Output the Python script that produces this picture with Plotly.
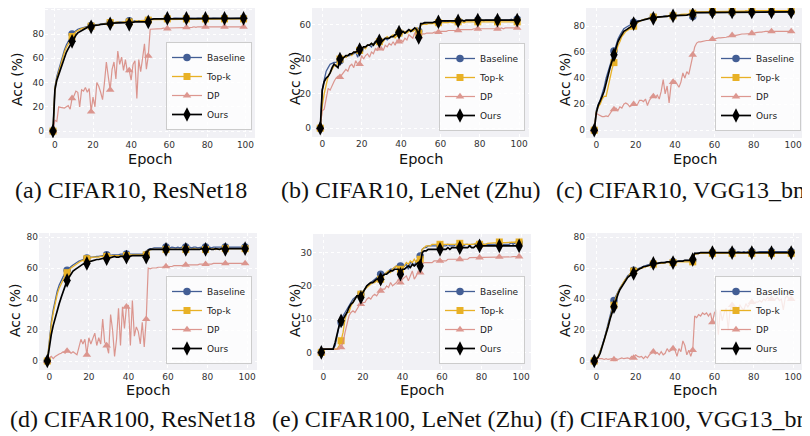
import plotly.graph_objects as go

# The page body adds an 8 px margin, so the figure is 8 px smaller than the window
OFF = 8
W, H = 810 - OFF, 436 - OFF

# ---------------- data ----------------
epochs = list(range(-1, 100))
series_names = ["Baseline", "Top-k", "DP", "Ours"]
x_ticks = [0, 20, 40, 60, 80, 100]

# (a) CIFAR10, ResNet18
a_base = [0,
    36, 45, 51, 57, 62, 67, 71, 74, 77, 80,
    81.5, 83, 84, 84.5, 85, 85.5, 86, 86.5, 87, 87,
    87.5, 87.5, 88, 88, 88, 88.5, 88.5, 89, 89, 89.5,
    89.5, 89.5, 90, 90, 90, 90, 90.5, 90.5, 90, 91,
    90.5, 90.5, 91, 90.5, 91, 91, 90.5, 91, 91, 91.5,
    92.5, 92.5, 92.5, 93, 92.5, 93, 93, 92.5, 93, 93,
    93, 92.8, 93, 93.2, 93, 93, 92.9, 93, 93.1, 93,
    93, 93, 93.2, 93, 93, 93.1, 93, 93, 93.2, 93,
    93, 93.1, 93, 93.2, 93, 93, 93.1, 93, 93, 93.2,
    93, 93.1, 93, 93, 93.2, 93, 93.1, 93, 93, 93.2]
a_topk = [0,
    35, 43, 49, 55, 60, 65, 69, 72, 75, 78,
    80, 82, 83, 84, 84.5, 85, 85.5, 86, 86.5, 86.5,
    87, 87, 87.5, 88, 88, 88, 88.5, 88.5, 89, 89.5,
    89, 89.5, 89.5, 90, 89.5, 90, 90, 90, 90.5, 90,
    90, 90.5, 90.5, 91, 90.5, 91, 91, 91, 91, 91.5,
    92, 92, 92, 92.5, 92, 92.5, 92.5, 92, 92.5, 92.5,
    92.5, 92.5, 92.3, 92.5, 92.5, 92.6, 92.5, 92.5, 92.4, 92.5,
    92.5, 92.5, 92.6, 92.5, 92.5, 92.4, 92.5, 92.6, 92.5, 92.5,
    92.5, 92.6, 92.5, 92.5, 92.4, 92.5, 92.5, 92.6, 92.5, 92.5,
    92.5, 92.5, 92.6, 92.5, 92.5, 92.6, 92.5, 92.5, 92.6, 92.5]
a_dp = [0,
    9, 8, 20, 19.5, 19.5, 19, 20, 21, 18, 27,
    29, 33, 32, 20, 34, 33, 36, 32, 35, 16,
    28, 20, 40, 37, 32, 26, 40, 57, 45, 34,
    51, 57, 43, 66, 55, 61, 50, 59, 49, 50,
    42, 55, 58, 27, 59, 49, 60, 72, 51, 62,
    84, 84, 84, 84.5, 84.5, 84.5, 84.5, 85, 84.5, 84.5,
    85, 85, 85, 85, 85.5, 85, 85.5, 85.5, 85.5, 85.5,
    85.5, 85.5, 85.5, 86, 85.5, 86, 86, 86, 86, 86,
    86, 86, 86, 86, 86, 86, 86.5, 86, 86, 86,
    86, 86, 86.5, 86, 86, 86.5, 86, 86, 86.5, 86]
a_ours = [0,
    34, 42, 47, 52, 56, 61, 65, 68, 71, 74,
    77, 79, 81, 82, 83, 84, 85, 85.5, 86, 86,
    87, 87, 87.5, 87.5, 88, 88, 88, 88.5, 88.5, 88.5,
    89, 89, 89, 89.5, 89.5, 89.5, 89.5, 89.5, 90, 88,
    89.5, 90, 90, 90, 90, 90, 90, 90.5, 90.5, 90,
    92, 92.5, 92.5, 92.5, 92.5, 92.5, 92.5, 93, 93, 93,
    93, 93, 93, 93, 93, 93, 93, 93, 93, 93,
    93, 93, 93, 93, 93, 93, 93, 93, 93, 93,
    93, 93, 93, 93, 93, 93, 93, 93, 93, 93,
    93, 93, 93, 93, 93, 93, 93, 93, 93, 93]

# (b) CIFAR10, LeNet (Zhu)
b_base = [0,
    22, 28, 33, 35, 37, 37.5, 38, 38, 39, 39,
    40, 41, 41, 42, 42, 43, 43, 44, 41, 45,
    46, 46, 47, 48, 48, 47, 49, 49, 50, 50,
    50, 51, 52, 51, 52, 53, 53, 54, 54, 55,
    55, 56, 55, 56, 57, 56, 57, 57, 58, 56,
    60, 60.5, 60.5, 61, 61, 61, 61, 61, 61.5, 61,
    61.5, 61.5, 61.5, 62, 61.5, 62, 62, 62, 62, 62,
    62, 62, 62, 62, 62, 62, 62, 62.5, 62, 62.5,
    62.5, 62.5, 62, 62.5, 62.5, 62.5, 62.5, 62.5, 62.5, 62.5,
    62.5, 62.5, 62.5, 62.5, 62.5, 62.5, 63, 62.5, 62.5, 63]
b_topk = [0,
    13, 20, 26, 30, 32, 34, 36, 36, 38, 40,
    40, 41, 41, 42, 43, 42, 44, 44, 45, 45,
    46, 47, 46, 48, 48, 49, 48, 50, 49, 50,
    51, 50, 52, 53, 52, 53, 54, 52, 54, 55,
    54, 55, 56, 55, 56, 57, 56, 57, 58, 55,
    59.5, 60, 60, 60, 60.5, 60.5, 60.5, 60.5, 61, 61,
    61, 61, 61, 61, 61, 61.5, 61, 61, 61.5, 61.5,
    61.5, 61.5, 61, 61.5, 61.5, 61.5, 61.5, 61.5, 61.5, 61.5,
    61.5, 61.5, 61.5, 61.5, 61.5, 61.5, 61.5, 61.5, 61.5, 61.5,
    61.5, 61.5, 61.5, 61.5, 61.5, 61.5, 61.5, 61.5, 61.5, 61.5]
b_dp = [0,
    10, 11, 17, 23, 22, 25, 27, 29, 30, 29.5,
    31, 32, 34, 33, 36, 37, 35, 39, 37, 37,
    42, 40, 42, 43, 41, 44, 43, 46, 45, 46,
    47, 45, 48, 47, 49, 48, 50, 48, 51, 50,
    51, 50, 52, 51, 54, 53, 52, 55, 54, 53,
    54, 54.5, 54.5, 55, 55, 55, 55, 55.5, 55.5, 55.5,
    56, 56, 56, 56, 56.5, 56.5, 56.5, 56.5, 56.5, 56.5,
    57, 57, 57, 57, 57, 57, 57, 57.5, 57.5, 57.5,
    57.5, 57.5, 57.5, 57.5, 57.5, 57.5, 57.5, 57.5, 57.5, 57.5,
    57.5, 58, 57.5, 58, 58, 58, 58, 58, 58, 58]
b_ours = [0,
    22, 27, 29, 30, 32, 35, 37, 36, 35, 40,
    40, 41, 42, 42, 43, 43, 44, 44, 45, 45.5,
    46, 47, 47, 48, 48, 49, 48, 50, 50, 50.5,
    50, 51, 52, 52, 52, 53, 53, 54, 55, 55.5,
    55, 56, 55, 56, 57, 56, 57, 58, 57, 52.5,
    60.5, 60.5, 61, 61, 61, 61, 61, 61.5, 61.5, 61.5,
    62, 62, 62, 62, 62, 62, 62, 62, 62, 62,
    62, 62.5, 62, 62.5, 62.5, 62.5, 62.5, 62.5, 62.5, 62.5,
    62.5, 62.5, 62.5, 62.5, 62.5, 62.5, 62.5, 62.5, 62.5, 62.5,
    62.5, 62.5, 62.5, 62.5, 62.5, 62.5, 62.5, 62.5, 62.5, 62.5]

# (c) CIFAR10, VGG13_bn
c_base = [0,
    15, 20, 23, 28, 33, 40, 45, 50, 55, 61,
    66, 70, 73, 76, 78, 79, 80, 81, 82, 83,
    83.5, 84, 84, 84.5, 85, 85.5, 86, 86, 86.5, 87,
    87, 87, 87.5, 87.5, 87.5, 88, 88, 88, 88, 88,
    88, 88.5, 88.5, 88.5, 88.5, 88.5, 88.5, 89, 88.5, 87.5,
    90.5, 90.5, 90.5, 90.5, 90.5, 90.5, 90.5, 90.5, 90.5, 90.5,
    90.5, 90.5, 90.5, 90.5, 90.5, 90.5, 90.5, 90.5, 90.5, 90.5,
    90.5, 90.5, 90.5, 90.5, 90.5, 90.5, 90.5, 91, 90.5, 91,
    91, 91, 90.5, 91, 91, 91, 91, 91, 91, 91,
    91, 91, 91, 91, 91, 91, 91, 91, 91, 91]
c_topk = [0,
    14, 18, 20, 24, 26, 26, 34, 42, 47, 52,
    60, 65, 68, 72, 74, 76, 77, 78, 79, 80,
    82, 83, 84, 84.5, 85, 85.5, 86, 86, 86.5, 87,
    87, 87, 87.5, 87.5, 87.5, 87.5, 88, 88, 88, 88,
    88, 88.5, 88.5, 89, 89, 89, 89.5, 89.5, 90, 90,
    91, 91, 91, 91.5, 91.5, 91.5, 91.5, 91.5, 91.5, 91.5,
    91.5, 91.5, 91.5, 91.5, 91.5, 91.5, 91.5, 91.5, 91.5, 91.5,
    91.5, 91.5, 91.5, 91.5, 91.5, 91.5, 92, 91.5, 91.5, 92,
    92, 92, 92, 92, 92, 92, 92, 92, 92, 92,
    92, 92, 92, 92, 92, 92, 92, 92, 92, 92]
c_dp = [0,
    13, 12, 11, 10.5, 10.5, 11, 10.5, 13, 15, 16,
    17, 15, 18, 17, 20, 21, 20, 18, 19, 20,
    19, 20, 23, 23, 22, 24, 19, 23, 25, 26,
    25, 27, 24, 30, 39, 28, 34, 21, 35, 37,
    38, 35, 33, 37, 44, 40, 45, 43, 50, 58,
    64, 67, 68, 68, 68.5, 69, 69, 69, 69.5, 70,
    70, 70.5, 71, 71, 71, 71.5, 71.5, 72, 72.5, 73,
    73, 73, 73.5, 73.5, 74, 74, 74, 74, 74.5, 74.5,
    74.5, 75, 75.5, 75.5, 75.5, 76, 76, 76, 76, 76,
    76, 76, 76.5, 76.5, 76.5, 76.5, 76.5, 76.5, 76, 76]
c_ours = [0,
    13, 19, 22, 26, 30, 37, 42, 48, 53, 58,
    63, 68, 71, 74, 76, 77, 78, 79, 80, 82,
    83, 83.5, 84, 84.5, 85, 85.5, 85.5, 86, 86, 86,
    86.5, 87, 87, 87, 87.5, 87.5, 87.5, 88, 88, 88,
    88, 88, 88, 88.5, 88.5, 88.5, 88.5, 89, 89, 89,
    90.5, 90.5, 90.5, 90.5, 90.5, 90.5, 90.5, 91, 91, 91,
    91, 91, 91, 91, 91, 91, 91, 91, 91, 91,
    91, 91, 91, 91, 91, 91, 91, 91, 91, 91,
    91, 91, 91, 91, 91, 91, 91, 91, 91, 91,
    91, 91, 91, 91, 91, 91, 91, 91, 91, 91]

# (d) CIFAR100, ResNet18
d_base = [0,
    15, 25, 33, 40, 45, 49, 52, 55, 57, 58.5,
    60, 61, 62, 63, 64, 64.5, 65, 65.5, 66, 66.5,
    67, 67, 67, 67.5, 67.5, 67.5, 68, 68, 68, 68.5,
    68, 68.5, 68.5, 68.5, 68.5, 68.5, 69, 69, 69, 69,
    69, 69, 69, 69, 69, 69, 69, 69, 69, 68.5,
    72, 72.5, 72.5, 73, 73, 73, 73, 73, 73, 73.5,
    73, 73, 73.5, 73, 73, 73.5, 73, 73.5, 73, 73.5,
    73, 73.5, 73, 73.5, 73.5, 73, 73.5, 73.5, 73, 73.5,
    73.5, 73.5, 73, 73.5, 73.5, 73.5, 73.5, 73.5, 73.5, 73.5,
    73.5, 73.5, 73.5, 73.5, 73.5, 73.5, 73.5, 73.5, 73.5, 73.5]
d_topk = [0,
    14, 23, 31, 38, 43, 47, 50, 53, 55, 57,
    59, 60, 61, 62, 63, 64, 64.5, 65, 65.5, 66,
    66.5, 66.5, 67, 67, 67, 67, 67.5, 67.5, 67.5, 67.5,
    67.5, 68, 68, 68, 68, 68, 68, 68, 68, 68,
    68, 68.5, 68.5, 68.5, 68.5, 68.5, 68.5, 68.5, 68.5, 68.5,
    71.5, 72, 72, 72, 72, 72, 72, 72, 72, 72,
    72, 72, 72, 72, 72, 72, 72, 72, 72, 72,
    72, 72, 72, 72.5, 72, 72, 72, 72.5, 72, 72,
    72.5, 72, 72, 72.5, 72, 72.5, 72, 72.5, 72.5, 72.5,
    72.5, 72.5, 72.5, 72.5, 72.5, 72.5, 72.5, 72.5, 72.5, 72.5]
d_dp = [0,
    2, 3, 1.5, 3, 4, 4.5, 5, 6, 5, 6.5,
    6, 5, 6, 5, 4, 9, 14, 11, 14, 4,
    15, 11, 15, 18, 10, 15, 11, 27, 12, 10,
    5, 30, 20, 3, 14, 34, 10, 35, 21, 35,
    36, 10, 39, 16, 22, 19, 11, 25, 9, 27,
    60, 59.5, 60, 60, 60, 60.5, 60.5, 60.5, 61, 61,
    61, 61, 61, 61.5, 61.5, 61.5, 61.5, 61.5, 62, 62,
    62, 62, 62, 62, 62, 62, 62.5, 62.5, 62.5, 62.5,
    62.5, 62.5, 62.5, 63, 63, 63, 63, 63, 63, 63,
    63, 63, 63, 63, 63, 63, 63, 63, 63, 63]
d_ours = [0,
    10, 17, 23, 28, 33, 37, 41, 45, 48, 52,
    54, 56, 58, 59, 60, 61, 62, 62.5, 63, 63,
    64, 64.5, 65, 65, 65.5, 65.5, 66, 66, 66.5, 66,
    66.5, 67, 67, 67.5, 67, 67, 67.5, 67.5, 67.5, 67,
    67.5, 67.5, 68, 68, 68, 68, 68, 68, 68, 67,
    71.5, 72, 72, 72, 72, 72, 72, 72, 72, 72,
    72, 72, 72, 72, 72, 72, 72, 72, 72, 72,
    72, 72, 72, 72, 72, 72, 72, 72.5, 72, 72,
    72, 72.5, 72, 72, 72.5, 72, 72, 72.5, 72.5, 72,
    72.5, 72.5, 72.5, 72.5, 72.5, 72.5, 72.5, 72.5, 72.5, 72.5]

# (e) CIFAR100, LeNet (Zhu)
e_base = [0,
    1, 1, 1, 1, 1, 1.2, 2, 5, 8, 9,
    11, 12, 13, 14, 15, 16, 16.5, 17, 17.5, 17.5,
    18, 19, 20, 20.5, 21, 21.5, 22, 22.5, 23, 23.5,
    23, 23.5, 24, 24.5, 25, 25, 25.5, 26, 25.5, 26,
    25.5, 26, 26.5, 25, 27, 27, 26, 27.5, 28, 29,
    31, 31.5, 31.5, 32, 32, 32, 32, 32, 32, 32,
    32, 32, 32, 32.5, 32, 32, 32, 32.5, 32, 32,
    32.5, 32, 32.5, 32.5, 32, 32.5, 32.5, 32.5, 32.5, 32.5,
    32.5, 32.5, 32.5, 32.5, 32.5, 32.5, 32.5, 32.5, 32.5, 32.5,
    32.5, 32.5, 32.5, 32.5, 32.5, 33, 32.5, 33, 33, 33]
e_topk = [0,
    1, 1, 1, 1, 1, 1, 1, 1, 2, 3.5,
    6, 10, 12, 12, 14, 15, 16, 17, 17, 17.5,
    18, 19, 19.5, 20, 20.5, 21, 21, 21.5, 22, 22,
    23, 23.5, 24, 24.5, 24, 25, 25.5, 26, 25, 25,
    25.5, 26, 27, 26.5, 27.5, 27, 28, 27, 28.5, 28,
    31, 31.5, 32, 32, 32, 32.5, 32.5, 32.5, 32.5, 32.5,
    32.5, 32.5, 32.5, 32.5, 32.5, 32.5, 32.5, 32.5, 32.5, 32.8,
    32.8, 32.5, 32.5, 32.5, 32.5, 32.5, 32.5, 32.8, 32.5, 32.5,
    32.5, 32.5, 32.5, 32.8, 32.8, 33, 33, 33, 33, 33.2,
    33, 33, 33, 33, 33, 33, 33, 33, 33.2, 33.2]
e_dp = [0,
    1, 1, 1, 1, 1, 1, 1, 1, 1, 1.5,
    3, 6, 9, 11, 12, 12.5, 12, 13, 14, 14.5,
    15, 15, 16, 16.5, 16, 17, 17.5, 17, 18, 18.5,
    19, 19, 20, 19.5, 21, 20, 20.5, 21, 22, 21,
    22, 22.5, 23, 21.5, 23, 24.5, 22, 23, 24.5, 24,
    26.5, 27, 27, 27, 27, 27, 27.5, 27.5, 27.5, 27.5,
    27.5, 27.5, 27.5, 28, 28, 28, 28, 28, 28, 28,
    28, 28, 28, 28, 28.5, 28.5, 28.5, 28.5, 28.5, 28.5,
    28.5, 28.5, 28.5, 28.5, 28.5, 28.5, 28.5, 28.7, 28.7, 28.7,
    28.7, 28.7, 28.7, 28.7, 28.7, 28.7, 28.8, 28.8, 28.8, 28.8]
e_ours = [0,
    1, 1, 1, 1, 1, 1, 3, 6, 8, 9.5,
    10, 11, 12, 13.5, 14.5, 15, 16, 17, 17, 16.5,
    18, 19, 20, 20.5, 21, 21, 21.5, 22, 22, 22,
    23, 23.5, 23.5, 24, 24.5, 24.5, 25, 25, 25, 23.5,
    25, 25, 25.5, 26, 25.5, 26.5, 26, 26.5, 27, 26,
    30, 30.5, 30.5, 31, 31, 31, 31, 31, 31, 31,
    31, 31, 31, 31.5, 31, 31.5, 31.5, 31.5, 31.5, 31.5,
    31.5, 31.5, 31.5, 31.5, 32, 31.5, 31.5, 32, 32, 32,
    32, 32, 32, 32, 32, 32, 32, 32, 32, 32,
    32, 32, 32, 32, 32, 32, 32, 32, 32, 32]

# (f) CIFAR100, VGG13_bn
f_base = [0,
    1, 3, 6, 10, 14, 19, 24, 29, 34, 39,
    42, 45, 47, 49, 51, 53, 55, 56, 57, 58.5,
    59, 59.5, 60, 60.5, 61, 61.5, 62, 62, 62.5, 63,
    63, 63, 63.5, 63.5, 63.5, 64, 64, 64, 64, 64,
    64, 64.5, 64.5, 64.5, 64.5, 65, 65, 65, 65, 65,
    69.5, 69.5, 70, 70, 70, 70, 70, 70, 70, 70,
    70, 70, 70, 70, 70, 70, 70, 70, 70, 70.5,
    70, 70, 70.5, 70, 70, 70.5, 70, 70.5, 70, 70.5,
    70.5, 70, 70.5, 70.5, 70.5, 70.5, 70.5, 70.5, 70.5, 70.5,
    70.5, 70.5, 70.5, 70.5, 70.5, 70.5, 70.5, 70.5, 70.5, 70.5]
f_topk = [0,
    1, 3, 6, 9, 13, 18, 23, 28, 32, 36,
    41, 44, 47, 49, 51, 53, 54, 56, 57, 58,
    58.5, 59, 59.5, 60, 60.5, 61, 61.5, 62, 62, 62.5,
    62.5, 63, 63, 63, 63, 63.5, 63.5, 63.5, 63.5, 63.5,
    63.5, 64, 64, 64, 64, 64, 64, 64, 64, 64,
    69, 69, 69.5, 69.5, 69.5, 69.5, 69.5, 69.5, 69.5, 69.5,
    69.5, 69.5, 69.5, 69.5, 69.5, 69.5, 69.5, 69.5, 69.5, 69.5,
    69.5, 69.5, 69.5, 69.5, 69.5, 69.5, 69.5, 69.5, 69.5, 69.5,
    69.5, 69.5, 69.5, 69.5, 69.5, 69.5, 69.5, 69.5, 69.5, 69.5,
    69.5, 69.5, 69.5, 69.5, 69.5, 69.5, 69.5, 69.5, 69.5, 69.5]
f_dp = [0,
    1.5, 1.5, 1.5, 1.5, 1, 1.5, 1, 1.5, 1.5, 1,
    1.5, 1, 1.5, 2, 1.5, 2, 2, 1.5, 3, 2,
    4, 3, 2.5, 3, 1.5, 3, 2, 4, 5, 6,
    4.5, 5.5, 4, 6, 4, 5, 8, 6, 7, 8,
    7, 3, 8, 6, 13, 10, 4, 7, 3, 7,
    29, 28, 30, 29, 31, 30, 31, 29, 31, 25,
    31, 33, 17, 33, 26, 31, 34, 20, 33, 36,
    33, 35, 34, 36, 34, 33, 37, 35, 37, 38,
    37, 38, 38, 39, 38, 40, 39, 41, 40, 40,
    39, 40, 41, 39, 40, 33, 41, 42, 40, 40]
f_ours = [0,
    1, 2.5, 5, 9, 13, 17, 22, 27, 31, 35,
    40, 43, 46, 48, 50, 52, 54, 55, 56, 56.5,
    58, 59, 59.5, 60, 61, 61, 61.5, 62, 62.5, 63,
    63, 63, 63.5, 63.5, 63.5, 63.5, 64, 64, 64, 63.5,
    64, 64.5, 64.5, 64.5, 64.5, 65, 65, 65, 65, 65.5,
    69.5, 69.5, 69.5, 70, 70, 70, 70, 70, 70, 70,
    70, 70, 70, 70, 70, 70, 70, 70, 70, 70,
    70, 70, 70, 70, 70, 70, 70, 70, 70, 70,
    70, 70, 70, 70, 70, 70, 70, 70, 70, 70,
    70, 70, 70, 70, 70, 70, 70, 70, 70, 70]

captions = ["(a) CIFAR10, ResNet18", "(b) CIFAR10, LeNet (Zhu)", "(c) CIFAR10, VGG13_bn",
            "(d) CIFAR100, ResNet18", "(e) CIFAR100, LeNet (Zhu)", "(f) CIFAR100, VGG13_bn"]
y_ticks = [[0, 20, 40, 60, 80, 100], [0, 20, 40, 60], [0, 20, 40, 60, 80],
           [0, 20, 40, 60, 80], [0, 10, 20, 30], [0, 20, 40, 60, 80]]
panel_data = [
    (a_base, a_topk, a_dp, a_ours),
    (b_base, b_topk, b_dp, b_ours),
    (c_base, c_topk, c_dp, c_ours),
    (d_base, d_topk, d_dp, d_ours),
    (e_base, e_topk, e_dp, e_ours),
    (f_base, f_topk, f_dp, f_ours),
]

# ---------------- layout geometry (window pixels) ----------------
boxes = [(45, 255, 5, 138), (312, 529, 4, 137), (586, 803, 5, 138),
         (39, 257, 233, 370), (313, 531, 234, 370), (586, 803, 233, 370)]
y_ranges = [(-5.7, 101.5), (-5.1, 69.5), (-6.0, 94.0),
            (-5.8, 82.6), (-5.3, 35.6), (-5.8, 82.6)]
x_range = (-5.2, 105)
legend_anchor = [(252, 130), (525, 131), (801, 131),
                 (252, 364), (525, 364), (801, 364)]
ylabel_pos = [(17, 80), (295, 79), (565, 80), (15, 311), (295, 311), (565, 311)]
xlabel_y = [159, 159, 159, 390, 390, 390]
caption_pos = [(131, 190), (411, 190), (680, 190), (133, 419), (407, 419), (679, 419)]

styles = [
    dict(color="#435E95", symbol="circle", size=7.5, width=1.3),
    dict(color="#E8B126", symbol="square", size=7, width=1.3),
    dict(color="#D8867D", symbol="triangle-up", size=7.5, width=1.2),
    dict(color="#000000", symbol="diamond-tall", size=10.5, width=1.7),
]

def px_x(v):
    return min(max((v - OFF) / W, 0.0), 1.0)

def px_y(v):
    return min(max(1 - (v - OFF) / H, 0.0), 1.0)

fig = go.Figure()
annotations = []
layout_extra = {}
TRANSPARENT = "rgba(0,0,0,0)"

for p in range(6):
    ax_suffix = "" if p == 0 else str(p + 1)
    xa = "x" + ax_suffix
    ya = "y" + ax_suffix
    leg = "legend" + ax_suffix
    L, R, T, B = boxes[p]
    for s, (name, vals) in enumerate(zip(series_names, panel_data[p])):
        st = styles[s]
        mcolors = [st["color"] if i % 10 == 0 else TRANSPARENT for i in range(len(vals))]
        fig.add_trace(go.Scatter(
            x=epochs, y=vals, name=name, mode="lines+markers",
            xaxis=xa, yaxis=ya, legend=leg,
            line=dict(color=st["color"], width=st["width"]),
            opacity=0.85 if name == "DP" else 1.0,
            marker=dict(symbol=st["symbol"], size=st["size"], color=mcolors,
                        line=dict(width=0)),
            hoverinfo="skip",
        ))
    common_axis = dict(showline=False, zeroline=False, showgrid=True,
                       gridcolor="white", griddash="dot", gridwidth=1,
                       ticks="", tickfont=dict(family="DejaVu Sans", size=9, color="#333333"))
    layout_extra["xaxis" + ax_suffix] = dict(
        common_axis, domain=[px_x(L), px_x(R)], anchor=ya,
        range=list(x_range), tickvals=x_ticks)
    layout_extra["yaxis" + ax_suffix] = dict(
        common_axis, domain=[px_y(B), px_y(T)], anchor=xa,
        range=list(y_ranges[p]), tickvals=y_ticks[p])
    lx, ly = legend_anchor[p]
    layout_extra[leg] = dict(
        x=px_x(lx), y=px_y(ly), xanchor="right", yanchor="bottom",
        xref="paper", yref="paper",
        bgcolor="rgba(255,255,255,0.8)", bordercolor="#CCCCCC", borderwidth=1,
        font=dict(family="DejaVu Sans", size=9, color="#222222"),
        itemwidth=30, tracegroupgap=0)
    yx, yy = ylabel_pos[p]
    annotations.append(dict(text="Acc (%)", x=px_x(yx), y=px_y(yy), xref="paper", yref="paper",
                            showarrow=False, textangle=-90, xanchor="center", yanchor="middle",
                            font=dict(family="DejaVu Sans", size=14, color="#111111")))
    annotations.append(dict(text="Epoch", x=px_x((L + R) / 2), y=px_y(xlabel_y[p]),
                            xref="paper", yref="paper", showarrow=False,
                            xanchor="center", yanchor="middle",
                            font=dict(family="DejaVu Sans", size=14.5, color="#111111")))
    cx, cy = caption_pos[p]
    annotations.append(dict(text=captions[p], x=px_x(cx), y=px_y(cy), xref="paper", yref="paper",
                            showarrow=False, xanchor="center", yanchor="middle",
                            font=dict(family="Liberation Serif", size=24, color="#111111")))

fig.update_layout(
    width=W, height=H, margin=dict(l=0, r=0, t=0, b=0),
    paper_bgcolor="white", plot_bgcolor="#F1F1F5",
    annotations=annotations, showlegend=True,
    **layout_extra,
)

fig.write_html("out.html")
